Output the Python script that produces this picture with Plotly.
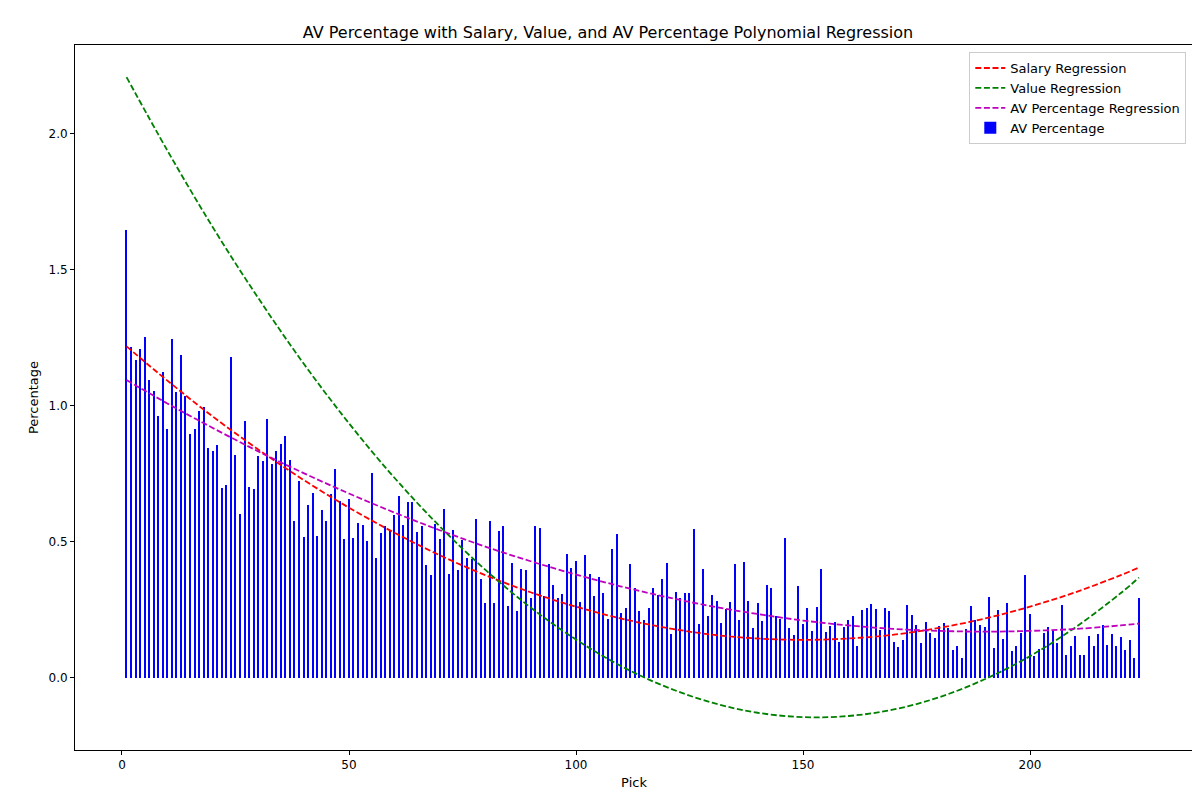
import plotly.graph_objects as go

picks = list(range(1, 225))
av_pct = [1.647,1.216,1.170,1.209,1.253,1.095,1.055,0.963,1.125,0.916,1.246,1.051,1.187,1.035,0.897,0.915,0.982,0.996,0.846,0.834,
0.857,0.699,0.710,1.180,0.820,0.603,0.945,0.702,0.695,0.816,0.798,0.952,0.787,0.834,0.860,0.890,0.801,0.577,
0.724,0.519,0.636,0.680,0.522,0.618,0.577,0.676,0.769,0.651,0.511,0.658,0.515,0.570,0.563,0.504,0.754,0.441,0.533,0.559,0.540,0.599,
0.669,0.563,0.647,0.647,0.537,0.559,0.416,0.379,0.566,0.511,0.621,0.382,0.544,0.397,0.507,0.441,0.437,
0.585,0.364,0.276,0.577,0.276,0.540,0.559,0.265,0.423,0.246,0.401,0.397,0.294,0.559,0.551,0.301,0.419,0.342,0.294,0.309,0.456,0.404,0.430,
0.279,0.452,0.382,0.301,0.371,0.312,0.217,0.474,0.529,0.239,0.257,0.419,0.331,0.246,0.213,
0.257,0.331,0.305,0.364,0.423,0.162,0.316,0.294,0.312,0.312,0.548,0.199,0.401,0.228,0.305,0.283,0.202,0.254,0.279,0.419,0.213,0.426,0.283,0.184,
0.276,0.209,0.342,0.331,0.228,0.217,0.515,0.184,0.158,0.338,0.199,0.257,0.173,0.261,0.401,
0.169,0.191,0.206,0.132,0.188,0.213,0.228,0.118,0.250,0.257,0.272,0.254,0.176,0.257,0.246,0.132,0.114,0.140,0.268,0.232,0.195,0.129,0.206,0.165,
0.147,0.191,0.202,0.184,0.103,0.118,0.074,0.180,0.265,0.213,0.195,0.188,
0.298,0.110,0.250,0.143,0.276,0.099,0.118,0.165,0.379,0.235,0.081,0.107,0.165,0.188,0.176,0.129,0.268,0.085,0.118,0.154,0.085,0.085,0.154,0.118,
0.162,0.195,0.121,0.162,0.118,0.151,0.103,0.140,0.074,0.294]

curve_x = [1,10,20,30,40,50,60,70,80,90,100,110,120,130,140,150,160,170,180,190,200,210,220,224]
salary_reg = [1.219,1.093,0.961,0.840,0.728,0.626,0.534,0.451,0.378,0.315,0.262,0.218,0.184,0.159,0.145,0.140,0.145,0.159,0.184,0.218,0.262,0.315,0.378,0.406]
value_reg = [2.209,1.939,1.657,1.397,1.156,0.936,0.736,0.557,0.398,0.259,0.141,0.043,-0.034,-0.091,-0.128,-0.144,-0.140,-0.116,-0.071,-0.005,0.080,0.186,0.312,0.369]
av_reg = [1.095,1.009,0.919,0.833,0.753,0.678,0.608,0.543,0.483,0.429,0.380,0.336,0.297,0.263,0.235,0.211,0.193,0.180,0.173,0.170,0.173,0.180,0.193,0.200]

fig = go.Figure()
for name, ys, col in [("Salary Regression", salary_reg, "#ff0000"),
                      ("Value Regression", value_reg, "#008000"),
                      ("AV Percentage Regression", av_reg, "#bf00bf")]:
    fig.add_trace(go.Scatter(x=curve_x, y=ys, mode="lines", name=name,
                             line=dict(color=col, width=1.8, dash="6px,2.6px", shape="spline")))
fig.add_trace(go.Bar(x=picks, y=av_pct, width=0.25, marker=dict(color="#0000ff", line=dict(width=0)), name="AV Percentage"))

axis_common = dict(showgrid=False, zeroline=False, showline=True, linecolor="black", linewidth=1, mirror=True,
                   ticks="outside", ticklen=4, tickcolor="black", tickfont=dict(size=12, color="black"),
                   automargin=False)
fig.update_layout(
    width=1200, height=800,
    paper_bgcolor="white", plot_bgcolor="white",
    font=dict(family="DejaVu Sans", color="black"),
    margin=dict(l=67, r=15, t=37, b=58, autoexpand=False),
    title=dict(text="AV Percentage with Salary, Value, and AV Percentage Polynomial Regression",
               x=0.5, xanchor="center", y=0.97, yanchor="middle", font=dict(size=16)),
    xaxis=dict(range=[-10.35, 235.9], tickvals=[0,50,100,150,200],
               title=dict(text="Pick", font=dict(size=13), standoff=6), **axis_common),
    yaxis=dict(range=[-0.265, 2.327], tickvals=[0,0.5,1,1.5,2], ticktext=["0.0","0.5","1.0","1.5","2.0"],
               title=dict(text="Percentage", font=dict(size=13), standoff=6), **axis_common),
    legend=dict(x=0.994, y=0.99, xanchor="right", yanchor="top", bordercolor="#cccccc", borderwidth=1,
                bgcolor="rgba(255,255,255,0.8)", font=dict(size=13), traceorder="normal"),
    bargap=0, showlegend=True,
)
fig.write_html("out.html")
